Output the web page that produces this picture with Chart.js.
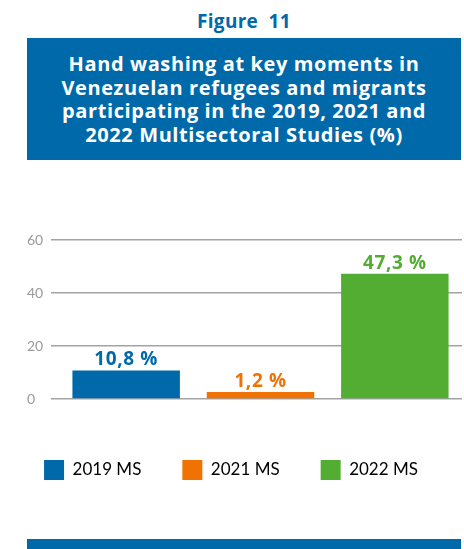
<!DOCTYPE html>
<html>
<head>
<meta charset="utf-8">
<script src="https://cdn.jsdelivr.net/npm/chart.js@4.4.1/dist/chart.umd.min.js"></script>
<style>
  html, body { margin: 0; padding: 0; background: #fff; }
  body { width: 464px; height: 549px; position: relative; overflow: hidden; font-family: 'Lato', sans-serif; }
  #fig { position: absolute; top: 8px; left: 27px; width: 434px; text-align: center; color: #0069aa; font: 700 19px 'Open Sans', sans-serif; letter-spacing: 0.3px; }
  #titlebox { position: absolute; top: 38px; left: 27px; width: 434px; height: 122px; background: #0069aa; color: #fff; display: flex; align-items: center; justify-content: center; text-align: center; font: 700 20px 'Open Sans', sans-serif; letter-spacing: 0.6px; line-height: 23.5px; }
  #wrap { position: absolute; top: 170px; left: 0; width: 464px; height: 320px; }
  #bottombar { position: absolute; top: 539px; left: 27px; width: 434px; height: 10px; background: #0069aa; }
</style>
</head>
<body>
<div id="fig">Figure&nbsp; 11</div>
<div id="titlebox"><div>Hand washing at key moments in<br>Venezuelan refugees and migrants<br>participating in the 2019, 2021 and<br>2022 Multisectoral Studies (%)</div></div>
<div id="wrap"><canvas id="c"></canvas></div>
<div id="bottombar"></div>
<script>
const categories = ["2019 MS", "2021 MS", "2022 MS"];
const values = [10.8, 1.2, 47.3];
const valueLabels = ["10,8 %", "1,2 %", "47,3 %"];
const yTicks = [0, 20, 40, 60];
const colors = ["#0069aa", "#ef7203", "#52ad32"];

const labelPlugin = {
  id: 'barLabels',
  afterLayout(chart) {
    // left-align the y tick labels at x = 27
    chart.scales.y.left = 27;
  },
  afterDatasetsDraw(chart) {
    const ctx = chart.ctx;
    const meta = chart.getDatasetMeta(0);
    ctx.save();
    ctx.font = "700 19px 'Open Sans', sans-serif";
    ctx.letterSpacing = '0.6px';
    ctx.textAlign = 'center';
    ctx.textBaseline = 'bottom';
    meta.data.forEach((el, i) => {
      ctx.fillStyle = colors[i];
      ctx.fillText(valueLabels[i], el.x, el.y - 1);
    });
    ctx.restore();
  }
};

new Chart(document.getElementById('c'), {
  type: 'bar',
  data: {
    labels: categories,
    datasets: [{
      data: values,
      backgroundColor: colors,
      borderWidth: 0,
      barPercentage: 0.8,
      categoryPercentage: 1.0,
      minBarLength: 7
    }]
  },
  options: {
    responsive: true,
    maintainAspectRatio: false,
    animation: false,
    layout: { padding: { left: 0, right: 2, top: 70, bottom: 0 } },
    plugins: {
      tooltip: { enabled: false },
      legend: {
        position: 'bottom',
        labels: {
          boxWidth: 20,
          boxHeight: 20,
          padding: 41,
          color: '#222',
          font: { family: 'Lato', size: 17 },
          generateLabels: () => categories.map((c, i) => ({
            text: c, fillStyle: colors[i], strokeStyle: colors[i], lineWidth: 0, hidden: false, index: i
          }))
        }
      }
    },
    scales: {
      x: {
        display: true,
        afterFit(scale) { scale.height = 20; },
        grid: { display: false },
        border: { display: false },
        ticks: { display: false }
      },
      y: {
        min: 0, max: 60,
        afterFit(scale) { scale.width = 59; },
        afterBuildTicks(scale) { scale.ticks = yTicks.map(v => ({ value: v })); },
        border: { display: false },
        grid: { color: '#a3a3a3', lineWidth: 1.5, tickLength: 8, drawTicks: true },
        ticks: { crossAlign: 'far', color: '#9a9a9a', font: { family: 'Lato', size: 14 }, padding: 4 }
      }
    }
  },
  plugins: [labelPlugin]
});
</script>
</body>
</html>
